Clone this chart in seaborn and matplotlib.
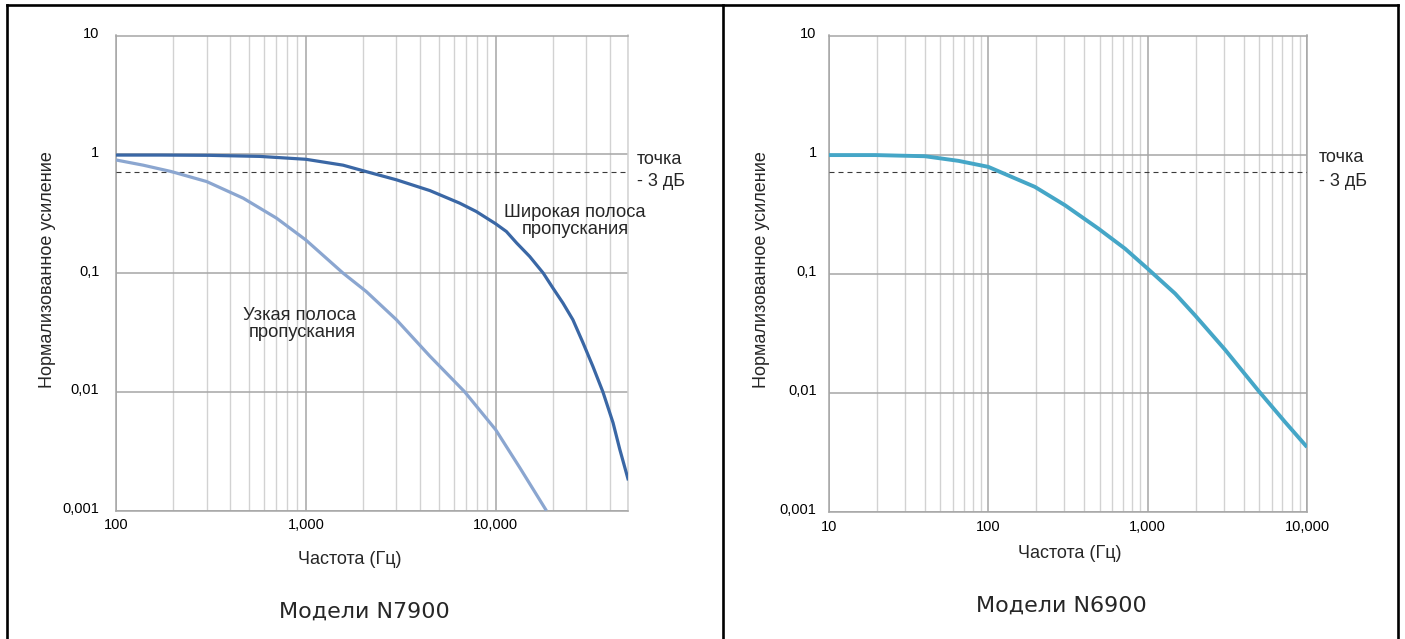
import matplotlib
matplotlib.use("Agg")
import matplotlib.pyplot as plt
import matplotlib.ticker as mticker
from matplotlib.lines import Line2D
from matplotlib.transforms import ScaledTranslation
import pandas as pd
import seaborn as sns

# ---------------- data ----------------
wide_freq = [100, 171, 312, 573, 1000, 1570, 2080, 3000, 4500, 6460, 7900, 10000,
             11380, 12900, 15100, 17800, 20000, 22600, 25500, 28800, 32500, 36700,
             41500, 45000, 50000]
wide_gain = [0.985, 0.985, 0.98, 0.96, 0.908, 0.81, 0.715, 0.61, 0.495, 0.388, 0.33, 0.26,
             0.224, 0.179, 0.138, 0.10, 0.075, 0.056, 0.0405, 0.026, 0.0164, 0.010,
             0.0055, 0.0033, 0.0018]

narrow_freq = [100, 139, 196, 300, 468, 701, 1000, 1570, 2080, 3000, 4500, 6870,
               10000, 13400, 18500]
narrow_gain = [0.896, 0.81, 0.715, 0.59, 0.427, 0.29, 0.19, 0.10, 0.07, 0.0405, 0.020,
               0.010, 0.0048, 0.0023, 0.001]

n6900_freq = [10, 19.5, 40, 65, 100, 121, 196, 303, 490, 721, 1000, 1486, 1983,
              3055, 4950, 7280, 10000]
n6900_gain = [0.99, 0.99, 0.968, 0.885, 0.788, 0.706, 0.535, 0.375, 0.239, 0.162,
              0.110, 0.068, 0.0446, 0.023, 0.0104, 0.00567, 0.00349]

minus3db = 0.707

y_ticks = [0.001, 0.01, 0.1, 1, 10]
y_ticklabels = ["0,001", "0,01", "0,1", "1", "10"]
left_xticks = [100, 1000, 10000]
left_xticklabels = ["100", "1,000", "10,000"]
right_xticks = [10, 100, 1000, 10000]
right_xticklabels = ["10", "100", "1,000", "10,000"]

ylabel_text = "Нормализованное усиление"
xlabel_text = "Частота (Гц)"
wide_label = "Широкая полоса\nпропускания"
narrow_label = "Узкая полоса\nпропускания"
point_label = ["точка", "- 3 дБ"]
titles = ["Модели N7900", "Модели N6900"]

# ---------------- style ----------------
sns.set_style("white")
plt.rcParams["font.family"] = ["Liberation Sans", "DejaVu Sans"]

W, H = 1405, 639
fig = plt.figure(figsize=(W / 100, H / 100), dpi=100)

MAJ = "#a6a6a6"
MIN = "#d2d2d2"
C_WIDE = "#3a67a5"
C_NARROW = "#8ba6d0"
C_N6900 = "#45a6c7"

def px_axes(x0, x1, ytop, ybot):
    return fig.add_axes([x0 / W, 1 - ybot / H, (x1 - x0) / W, (ybot - ytop) / H])

ax1 = px_axes(116, 628.4, 35.5, 510.7)
ax2 = px_axes(829, 1307, 35.5, 511.7)

df_wide = pd.DataFrame({"f": wide_freq, "g": wide_gain})
df_narrow = pd.DataFrame({"f": narrow_freq, "g": narrow_gain})
df_n69 = pd.DataFrame({"f": n6900_freq, "g": n6900_gain})

line_kw = dict(estimator=None, sort=False, solid_joinstyle="round", solid_capstyle="butt")
sns.lineplot(data=df_narrow, x="f", y="g", ax=ax1, color=C_NARROW, lw=2.3, zorder=4, **line_kw)
sns.lineplot(data=df_wide, x="f", y="g", ax=ax1, color=C_WIDE, lw=2.3, zorder=5, **line_kw)
sns.lineplot(data=df_n69, x="f", y="g", ax=ax2, color=C_N6900, lw=2.8, zorder=5, **line_kw)

def style_axes(ax, xlim, xticks, xticklabels, right_spine_color, ypad, xpad):
    ax.set_xscale("log")
    ax.set_yscale("log")
    ax.set_xlim(*xlim)
    ax.set_ylim(0.001, 10)
    ax.set_xticks(xticks)
    ax.set_xticklabels(xticklabels)
    ax.xaxis.set_minor_locator(mticker.LogLocator(base=10, subs=range(2, 10), numticks=20))
    ax.xaxis.set_minor_formatter(mticker.NullFormatter())
    ax.set_yticks(y_ticks)
    ax.set_yticklabels(y_ticklabels)
    ax.yaxis.set_minor_locator(mticker.NullLocator())
    ax.tick_params(axis="both", which="both", length=0, labelsize=10.5, colors="black")
    ax.tick_params(axis="y", pad=ypad)
    ax.tick_params(axis="x", pad=xpad)
    ax.grid(True, which="major", axis="both", color=MAJ, lw=1.1, zorder=1)
    ax.grid(True, which="minor", axis="x", color=MIN, lw=1.0, zorder=1)
    ax.set_axisbelow(True)
    for s in ["left", "bottom", "top"]:
        ax.spines[s].set_color(MAJ)
        ax.spines[s].set_linewidth(1.1)
    ax.spines["right"].set_color(right_spine_color)
    ax.spines["right"].set_linewidth(1.1)
    ax.axhline(minus3db, color="#3a3a3a", lw=0.8, ls=(0, (4.5, 3.6)), zorder=3)

style_axes(ax1, (100, 50000), left_xticks, left_xticklabels, MIN, 12, 5)
style_axes(ax2, (10, 10000), right_xticks, right_xticklabels, MAJ, 9, 6)

# axis labels
ax1.set_xlabel(xlabel_text, fontsize=13, va="center", ha="center")
ax1.xaxis.set_label_coords((350 - 116) / 512.4, (510.7 - 560) / 475.2)
ax1.set_ylabel(ylabel_text, fontsize=13, va="center", ha="center")
ax1.yaxis.set_label_coords((48 - 116) / 512.4, (510.7 - 270) / 475.2)

ax2.set_xlabel(xlabel_text, fontsize=13, va="center", ha="center")
ax2.xaxis.set_label_coords((1070 - 829) / 478, (511.7 - 554) / 476.2)
ax2.set_ylabel(ylabel_text, fontsize=13, va="center", ha="center")
ax2.yaxis.set_label_coords((761 - 829) / 478, (511.7 - 270) / 476.2)

# shift y tick labels slightly above the gridlines
for ax in (ax1, ax2):
    for lab in ax.get_yticklabels():
        lab.set_transform(lab.get_transform() + ScaledTranslation(0, 0.03, fig.dpi_scale_trans))

def ftext(x, y, s, **kw):
    fig.text(x / W, 1 - y / H, s, **kw)

# curve annotations
ftext(575, 221, wide_label, fontsize=13.2, ha="center", va="center",
      multialignment="center", linespacing=1.05)
ftext(355.7, 324, narrow_label, fontsize=13.2, ha="right", va="center",
      multialignment="right", linespacing=1.05)

# -3 dB labels
for xpos, y1, y2 in [(637, 159, 182), (1319, 158, 181)]:
    ftext(xpos, y1, point_label[0], fontsize=13, ha="left", va="center")
    ftext(xpos, y2, point_label[1], fontsize=13, ha="left", va="center")

# panel titles
ftext(364, 612, titles[0], fontsize=16, ha="center", va="center", family="DejaVu Sans")
ftext(1061, 606, titles[1], fontsize=16, ha="center", va="center", family="DejaVu Sans")

# frame
def fline(xs, ys):
    fig.add_artist(Line2D([x / W for x in xs], [1 - y / H for y in ys],
                          transform=fig.transFigure, color="black", lw=1.9,
                          solid_capstyle="projecting"))

fline([6.7, 1398], [5.3, 5.3])
fline([6.7, 6.7], [5.3, 645])
fline([723, 723], [5.3, 645])
fline([1398, 1398], [5.3, 645])

fig.savefig("out.png", dpi=100)
